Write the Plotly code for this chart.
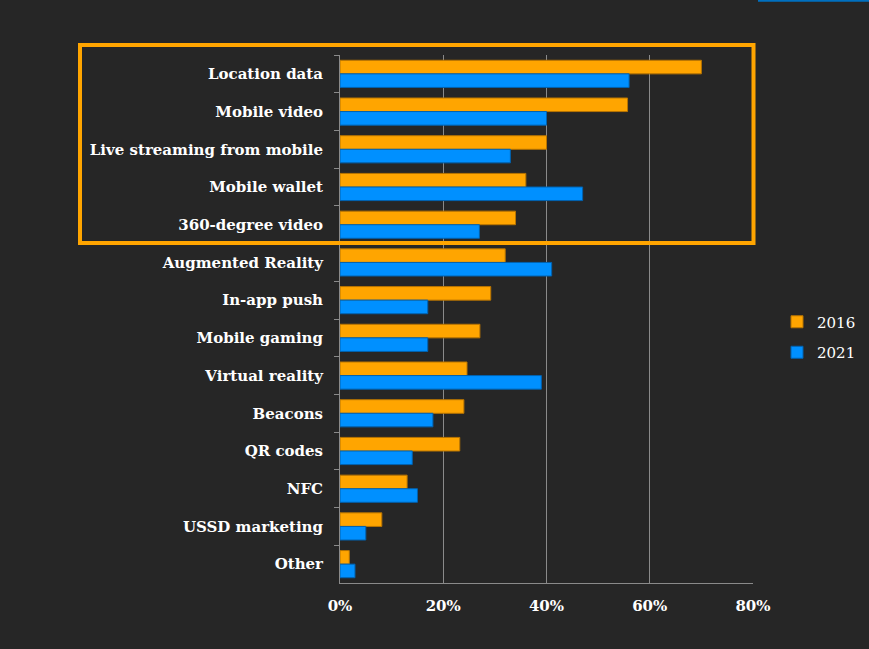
import plotly.graph_objects as go

categories = ["Location data", "Mobile video", "Live streaming from mobile", "Mobile wallet",
              "360-degree video", "Augmented Reality", "In-app push", "Mobile gaming",
              "Virtual reality", "Beacons", "QR codes", "NFC", "USSD marketing", "Other"]
values_2016 = [70, 55.7, 40, 36, 34, 32, 29.2, 27.1, 24.6, 24, 23.2, 13, 8.1, 1.8]
values_2021 = [56, 40, 33, 47, 27, 41, 17, 17, 39, 18, 14, 15, 5, 2.9]
tick_vals = [0, 20, 40, 60, 80]
tick_text = ["0%", "20%", "40%", "60%", "80%"]

BG = "#262626"
fig = go.Figure()
fig.add_trace(go.Bar(y=categories, x=values_2016, name="2016", orientation="h", legendgroup="a",
                     marker=dict(color="#FFA500", line=dict(color="#B87400", width=1))))
fig.add_trace(go.Bar(y=categories, x=values_2021, name="2021", orientation="h", legendgroup="b",
                     marker=dict(color="#0090FF", line=dict(color="#0062B0", width=1))))

W, H = 869, 649
L, R, T, B = 340, 753, 55, 583
def px(x): return (x - L) / (R - L)
def py(y): return (B - y) / (B - T)

fig.update_layout(
    width=W, height=H,
    paper_bgcolor=BG, plot_bgcolor=BG,
    margin=dict(l=L, r=W - R, t=T, b=H - B, pad=0, autoexpand=False),
    barmode="group", bargap=0.28, bargroupgap=0,
    font=dict(family="DejaVu Serif", color="white", size=14),
    showlegend=True,
    legend=dict(x=px(777), y=py(337), xanchor="left", yanchor="middle",
                traceorder="grouped", tracegroupgap=8,
                font=dict(size=15, family="DejaVu Serif", color="white"),
                bgcolor="rgba(0,0,0,0)", itemwidth=30),
    xaxis=dict(range=[0, 80], tickvals=tick_vals, ticktext=tick_text,
               showgrid=True, gridcolor="#8a8a8a", gridwidth=1,
               showline=True, linecolor="#8a8a8a", linewidth=1,
               ticks="", zeroline=False, ticklabelstandoff=9,
               tickfont=dict(family="DejaVu Serif", size=15, color="white", weight="bold")),
    yaxis=dict(autorange="reversed", showline=True, linecolor="#8a8a8a", linewidth=1,
               ticks="outside", ticklen=5, tickcolor="#8a8a8a",
               showgrid=False, ticklabelstandoff=13,
               tickson="boundaries",
               tickfont=dict(family="DejaVu Serif", size=15, color="white", weight="bold")),
    shapes=[
        dict(type="rect", xref="paper", yref="paper",
             x0=px(80), x1=px(753.5), y0=py(243), y1=py(45),
             line=dict(color="#FFA500", width=4), fillcolor="rgba(0,0,0,0)", layer="above"),
        dict(type="line", xref="paper", yref="paper",
             x0=px(758), x1=px(870), y0=py(0.8), y1=py(0.8),
             line=dict(color="#0070C0", width=2)),
    ],
)

fig.write_html("out.html", config={"displayModeBar": False},
               post_script="document.body.style.margin='0';document.body.style.background='#262626';")
